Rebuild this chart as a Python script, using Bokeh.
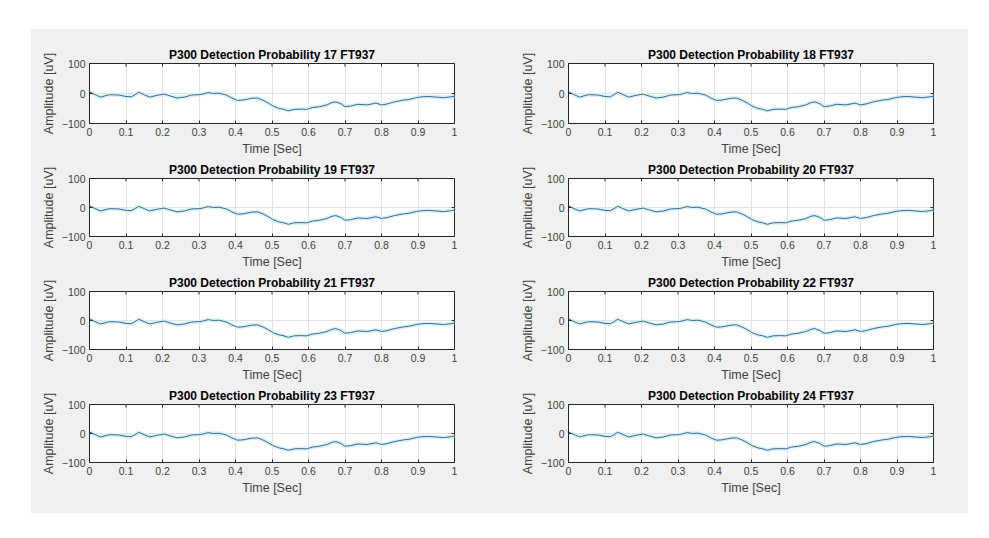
from bokeh.plotting import figure
from bokeh.layouts import gridplot
from bokeh.models import FixedTicker, Range1d
from bokeh.embed import file_html
from bokeh.resources import INLINE

# Averaged EEG epochs, one panel per detection-probability channel
channel_ids = [17, 18, 19, 20, 21, 22, 23, 24]
subject = "FT937"

time_s = [0.0, 0.03, 0.055, 0.08, 0.1, 0.115, 0.135, 0.165, 0.185, 0.205,
          0.22, 0.24, 0.26, 0.28, 0.3, 0.31, 0.325, 0.34, 0.355, 0.375,
          0.39, 0.405, 0.42, 0.445, 0.46, 0.475, 0.49, 0.505, 0.52, 0.53,
          0.545, 0.56, 0.58, 0.595, 0.61, 0.63, 0.65, 0.665, 0.675, 0.69,
          0.7, 0.715, 0.735, 0.76, 0.785, 0.8, 0.815, 0.835, 0.86, 0.875,
          0.895, 0.91, 0.93, 0.95, 0.97, 0.99, 1.0]
amplitude_uv = [5, -12, -4, -5, -10, -11, 4, -12, -6, -2,
                -8, -15, -12, -5, -4, -2, 3, 0, 1, -5,
                -15, -23, -22, -16, -15, -22, -32, -43, -50, -52,
                -58, -53, -52, -53, -47, -44, -38, -30, -28, -35,
                -44, -42, -36, -38, -32, -38, -35, -28, -22, -20,
                -14, -11, -10, -12, -14, -11, -9]

x_ticks = [0, 0.1, 0.2, 0.3, 0.4, 0.5, 0.6, 0.7, 0.8, 0.9, 1]
y_ticks = [-100, 0, 100]
x_tick_text = {0: "0", 1: "1"}
x_lim = (0, 1)
y_lim = (-100, 100)

# Panel geometry: (figure width, left border, right border) per column,
# (figure height, top border, bottom border) per row
col_geom = [(469, 58, 46), (468, 68, 35)]
row_geom = [(130, 34, 36), (113, 18, 36), (113, 17, 36), (128, 19, 51)]

PANEL_BG = "#f0f0f0"
AXIS_COL = "#262626"
TICK_COL = "#404040"
GRID_COL = "#e2e2e2"
FONT = "Liberation Sans"
TICK_PX = 3


def make_panel(ch, col, row):
    w, bl, br = col_geom[col]
    h, bt, bb = row_geom[row]
    p = figure(width=w, height=h, output_backend="svg", toolbar_location=None,
               x_range=Range1d(*x_lim), y_range=Range1d(*y_lim),
               min_border_left=bl, min_border_right=br,
               min_border_top=bt, min_border_bottom=bb,
               background_fill_color="white", border_fill_color=PANEL_BG,
               outline_line_color=AXIS_COL, outline_line_width=1)
    p.styles = {"background-color": PANEL_BG}
    p.title.text = f"P300 Detection Probability {ch} {subject}"
    p.title.align = "center"
    p.title.text_font = FONT
    p.title.text_font_size = "12px"
    p.title.text_font_style = "bold"
    p.title.text_color = "#000000"
    p.title.standoff = 3

    xa = p.xaxis[0]
    xa.ticker = FixedTicker(ticks=x_ticks)
    xa.major_label_overrides = x_tick_text
    xa.axis_label = "Time [Sec]"
    ya = p.yaxis[0]
    ya.ticker = FixedTicker(ticks=y_ticks)
    ya.axis_label = "Amplitude [uV]"
    for ax in (xa, ya):
        ax.axis_line_color = AXIS_COL
        ax.major_tick_line_color = AXIS_COL
        ax.major_tick_in = TICK_PX
        ax.major_tick_out = 0
        ax.minor_tick_line_color = None
        ax.major_label_text_font = FONT
        ax.major_label_text_font_size = "10.5px"
        ax.major_label_text_color = TICK_COL
        ax.major_label_standoff = 4
        ax.axis_label_text_font = FONT
        ax.axis_label_text_font_size = "12.5px"
        ax.axis_label_text_font_style = "normal"
        ax.axis_label_text_color = TICK_COL
        ax.axis_label_standoff = 3

    p.xgrid.ticker = FixedTicker(ticks=x_ticks)
    p.ygrid.ticker = FixedTicker(ticks=y_ticks)
    for g in (p.xgrid, p.ygrid):
        g.grid_line_color = GRID_COL
        g.grid_line_width = 1

    # mirrored tick marks along the top and right edges of the box
    fw = w - bl - br
    fh = h - bt - bb
    dy = TICK_PX * (y_lim[1] - y_lim[0]) / fh
    dx = TICK_PX * (x_lim[1] - x_lim[0]) / fw
    p.segment(x0=x_ticks, y0=[y_lim[1]] * len(x_ticks),
              x1=x_ticks, y1=[y_lim[1] - dy] * len(x_ticks),
              line_color=AXIS_COL, line_width=1)
    p.segment(x0=[x_lim[1]] * len(y_ticks), y0=y_ticks,
              x1=[x_lim[1] - dx] * len(y_ticks), y1=y_ticks,
              line_color=AXIS_COL, line_width=1)

    p.line(time_s, amplitude_uv, color="#dcf0f7", line_width=4)
    p.line(time_s, amplitude_uv, color="#2f6f98", line_width=1)
    return p


rows = []
for r in range(4):
    rows.append([make_panel(channel_ids[2 * r + c], c, r) for c in range(2)])

grid = gridplot(rows, toolbar_location=None)
grid.margin = (29, 0, 0, 31)
grid.styles = {"background-color": PANEL_BG}

open("out.html", "w").write(file_html(grid, INLINE))
